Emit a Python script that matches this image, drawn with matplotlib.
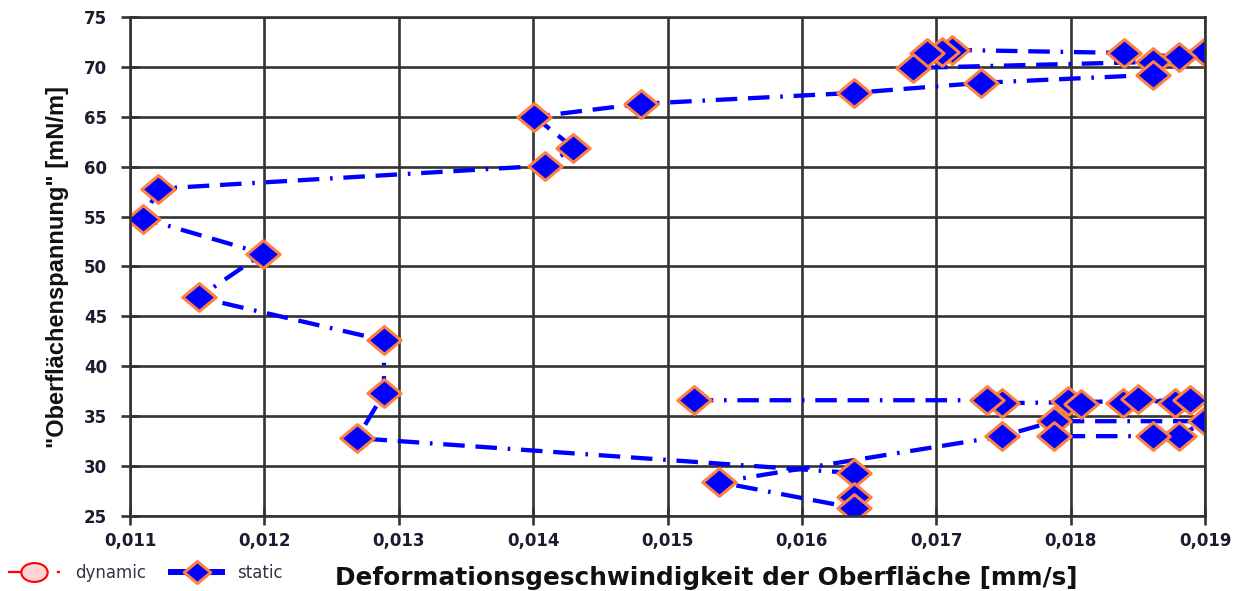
import numpy as np
import matplotlib
matplotlib.use("Agg")
import matplotlib.pyplot as plt
from matplotlib.path import Path
from matplotlib.transforms import Affine2D
from matplotlib.lines import Line2D
from matplotlib.ticker import FuncFormatter

plt.rcParams['font.family'] = ['DejaVu Sans']

# Messreihe "static" (in Reihenfolge der Verbindungslinie)
static_x = [0.0190, 0.01881, 0.01840, 0.01712, 0.01704, 0.01693, 0.01683, 0.01861, 0.01861, 0.01733,
            0.01639, 0.01480, 0.01401, 0.01430, 0.01409, 0.01121, 0.01110, 0.01199, 0.01151, 0.01289,
            0.01289, 0.01269, 0.01639, 0.01639, 0.01639, 0.01538, 0.01749, 0.01788, 0.01900, 0.01881,
            0.01861, 0.01788, 0.01798, 0.01808, 0.01839, 0.01850, 0.01878, 0.01889, 0.01749, 0.01738,
            0.01520]
static_y = [71.5, 71.0, 71.4, 71.7, 71.5, 71.4, 69.9, 70.5, 69.2, 68.4,
            67.4, 66.3, 65.0, 61.9, 60.1, 57.8, 54.8, 51.3, 46.9, 42.6,
            37.3, 32.8, 29.3, 26.9, 25.8, 28.4, 33.0, 34.5, 34.5, 33.0,
            33.0, 33.0, 36.5, 36.2, 36.3, 36.7, 36.3, 36.6, 36.3, 36.6,
            36.6]

# Messreihe "dynamic" (im Bild keine Punkte sichtbar)
dynamic_x = []
dynamic_y = []

x_ticks = np.arange(0.011, 0.01901, 0.001)
y_ticks = np.arange(25, 76, 5)

txt_col = '#1c1c30'
grid_col = '#333333'

# etwas breiterer Rhombus / Ellipse als Marker
raute = Path([(0, 1), (1.2, 0), (0, -1), (-1.2, 0), (0, 1)],
             [Path.MOVETO, Path.LINETO, Path.LINETO, Path.LINETO, Path.CLOSEPOLY])
kreis = Path.unit_circle().transformed(Affine2D().scale(1.4, 1.0))
strich = (0, (5, 2.5, 5, 2.5, 0.6, 2.5))

fig = plt.figure(figsize=(12.37, 5.91), dpi=100)
ax = fig.add_axes([130 / 1237, 75 / 591, 1075 / 1237, 499 / 591])

ax.plot(dynamic_x, dynamic_y, color='red', lw=1.6, ls=(0, (17, 5, 2.5, 5)), marker=kreis,
        ms=19, mfc='#ffd6d6', mec='red', label='dynamic')
ax.plot(static_x, static_y, color='#0000ff', lw=3.1, ls=strich, marker=raute,
        ms=24, mfc='#0000ff', mec='#ff8040', mew=2.2, label='static')

ax.set_xlim(0.011, 0.019)
ax.set_ylim(25, 75)
ax.set_xticks(x_ticks)
ax.set_yticks(y_ticks)
ax.xaxis.set_major_formatter(FuncFormatter(lambda v, p: f"{v:.3f}".replace('.', ',')))
ax.grid(True, color=grid_col, lw=1.9)
ax.set_axisbelow(True)
for s in ax.spines.values():
    s.set_color(grid_col)
    s.set_linewidth(1.9)
ax.tick_params(direction='inout', length=13, width=1.9, color=grid_col,
               labelsize=12, labelcolor=txt_col)
ax.tick_params(axis='y', pad=10)
ax.tick_params(axis='x', pad=5)
for lab in ax.get_xticklabels() + ax.get_yticklabels():
    lab.set_fontweight('bold')

fig.text(58 / 1237, 1 - 267 / 591, '"Oberflächenspannung" [mN/m]', rotation=90,
         ha='center', va='center', fontsize=17, fontweight='bold', color='#111111',
         family='Liberation Sans')
fig.text(706 / 1237, 1 - 578 / 591, 'Deformationsgeschwindigkeit der Oberfläche [mm/s]',
         ha='center', va='center', fontsize=17.8, fontweight='bold', color='#111111')

handles = [Line2D([], [], color='red', lw=1.6, ls=(0, (17, 5, 2.5, 5)), marker=kreis, ms=19,
                  mfc='#ffd6d6', mec='red', mew=1.5),
           Line2D([], [], color='#0000ff', lw=4.3, marker=raute, ms=19,
                  mfc='#0000ff', mec='#ff8040', mew=2.2)]
fig.legend(handles, ['dynamic', 'static'], loc='center left',
           bbox_to_anchor=(8 / 1237, 1 - 573 / 591), ncol=2, frameon=False,
           borderaxespad=0, borderpad=0,
           fontsize=12, handlelength=3.1, columnspacing=1.5, handletextpad=0.9,
           labelcolor='#333344')

fig.savefig('out.png', dpi=100)
